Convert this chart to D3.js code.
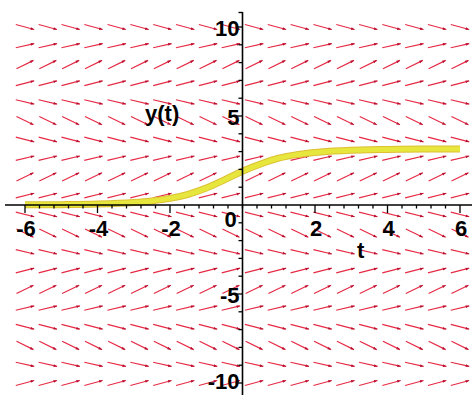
<!DOCTYPE html>
<html><head><meta charset="utf-8">
<script src="https://cdn.jsdelivr.net/npm/d3@7"></script>
<style>html,body{margin:0;padding:0;background:#fff;}svg{display:block;}</style>
</head><body>
<script>
// Direction-field grid (t columns, y rows) and slope of each row
const tGrid = [-6, -5.37, -4.74, -4.11, -3.47, -2.84, -2.21, -1.58, -0.95, -0.32, 0.32, 0.95, 1.58, 2.21, 2.84, 3.47, 4.11, 4.74, 5.37, 6];
const yGrid = [10, 8.95, 7.89, 6.84, 5.79, 4.74, 3.68, 2.63, 1.58, 0.53, -0.53, -1.58, -2.63, -3.68, -4.74, -5.79, -6.84, -7.89, -8.95, -10];
const rowSlopes = [-0.54, 0.46, 1.0, 0.53, -0.48, -1.0, -0.52, 0.49, 1.0, 0.5, -0.5, -1.0, -0.49, 0.52, 1.0, 0.48, -0.53, -1.0, -0.46, 0.54];
// Solution curve y(t)
const solT = [-6, -5, -4, -3, -2.5, -2, -1.5, -1, -0.5, 0, 0.5, 1, 1.5, 2, 2.5, 3, 3.5, 4, 5, 6];
const solY = [0.01, 0.02, 0.05, 0.14, 0.23, 0.37, 0.6, 0.95, 1.41, 1.9, 2.3, 2.63, 2.83, 2.95, 3.03, 3.08, 3.11, 3.12, 3.14, 3.14];
// Tick labels
const xTicks = [-6, -4, -2, 2, 4, 6];
const yTicks = [10, 5, -5, -10];

const W = 472, H = 395;
const svg = d3.select("body").append("svg").attr("width", W).attr("height", H);
const x = d3.scaleLinear().domain([-6, 6]).range([25, 460]);
const y = d3.scaleLinear().domain([-10, 10]).range([383, 27]);

// direction field
const arrowLen = 19;
const field = svg.append("g");
yGrid.forEach((yv, i) => {
  const s = rowSlopes[i];
  const dx = x(1) - x(0), dy = y(yv + s) - y(yv);
  const n = Math.hypot(dx, dy);
  const ux = dx / n, uy = dy / n;
  tGrid.forEach(tv => {
    const cx = x(tv), cy = y(yv);
    const x1 = cx - ux * arrowLen / 2, y1 = cy - uy * arrowLen / 2;
    const x2 = cx + ux * arrowLen / 2, y2 = cy + uy * arrowLen / 2;
    field.append("line").attr("x1", x1).attr("y1", y1).attr("x2", x2).attr("y2", y2)
      .attr("stroke", "#e62a44").attr("stroke-width", 1.15);
    const hx = x2 - ux * 3.5, hy = y2 - uy * 3.5;
    field.append("path")
      .attr("d", `M${x2},${y2}L${hx - uy * 1.4},${hy + ux * 1.4}L${hx + uy * 1.4},${hy - ux * 1.4}Z`)
      .attr("fill", "#b81030");
  });
});

// solution curve
const line = d3.line().x(d => x(d[0])).y(d => y(d[1])).curve(d3.curveMonotoneX);
const pts = solT.map((t, i) => [t, solY[i]]);
svg.append("path").datum(pts).attr("d", line).attr("fill", "none")
  .attr("stroke", "#dcc034").attr("stroke-width", 7);
svg.append("path").datum(pts).attr("d", line).attr("fill", "none")
  .attr("stroke", "#e6e63c").attr("stroke-width", 5);

// axes
const ax = svg.append("g").attr("stroke", "#000");
ax.append("line").attr("x1", 5).attr("x2", 472).attr("y1", y(0)).attr("y2", y(0)).attr("stroke-width", 1.6);
ax.append("line").attr("x1", x(0)).attr("x2", x(0)).attr("y1", 12).attr("y2", 395).attr("stroke-width", 1.6);
ax.append("line").attr("x1", x(0) - 4).attr("x2", x(0)).attr("y1", 12.5).attr("y2", 12.5).attr("stroke-width", 1.4);
d3.range(-30, 31, 2).forEach(k => {
  const v = k / 5;
  const major = (k % 10 === 0) && k !== 0;
  ax.append("line").attr("x1", x(v)).attr("x2", x(v)).attr("y1", y(0)).attr("y2", y(0) + (major ? 8 : 3.5)).attr("stroke-width", 1.3);
});
d3.range(-10, 11).forEach(v => {
  if (v === 0) return;
  const major = v % 5 === 0;
  ax.append("line").attr("x1", x(0)).attr("x2", x(0) - (major ? 7 : 4)).attr("y1", y(v)).attr("y2", y(v)).attr("stroke-width", 1.3);
});

// labels
const font = "'Liberation Sans', Arial, sans-serif";
const lab = svg.append("g").attr("font-family", font).attr("font-weight", "bold").attr("font-size", 22).attr("fill", "#000");
xTicks.forEach(v => {
  lab.append("text").attr("x", x(v) + 1).attr("y", y(0) + 31).attr("text-anchor", "middle").text(v);
});
lab.append("text").attr("x", x(0) - 12).attr("y", y(0) + 22).attr("text-anchor", "middle").text("0");
yTicks.forEach(v => {
  lab.append("text").attr("x", x(0) - 3).attr("y", Math.min(y(v) + 9, 389)).attr("text-anchor", "end").text(v);
});
lab.append("text").attr("x", 145).attr("y", 121).text("y(t)");
lab.append("text").attr("x", 357).attr("y", 258).text("t");
</script>
</body></html>
